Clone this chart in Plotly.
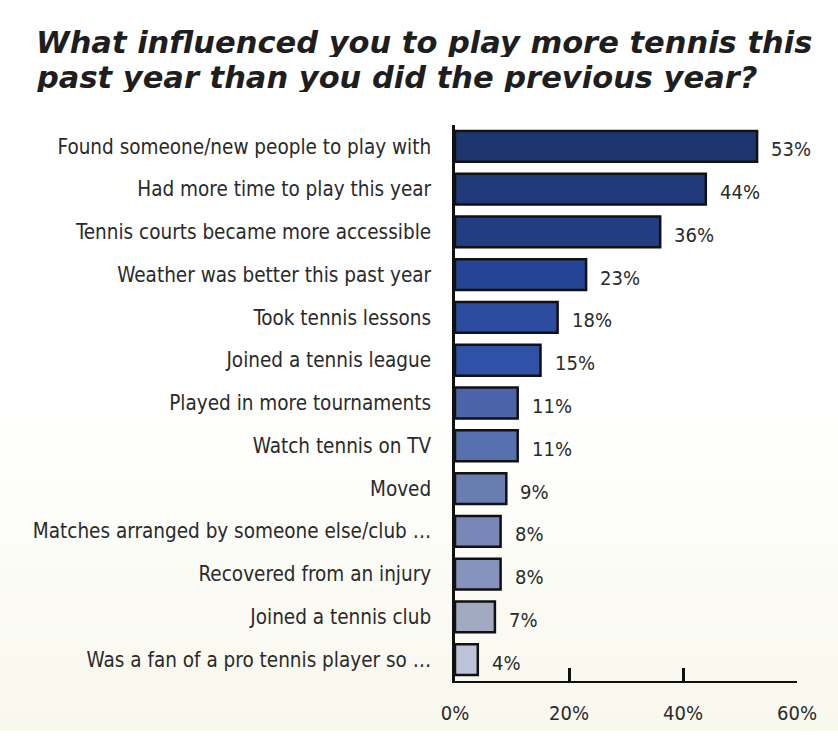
import plotly.graph_objects as go

categories = [
    "Found someone/new people to play with",
    "Had more time to play this year",
    "Tennis courts became more accessible",
    "Weather was better this past year",
    "Took tennis lessons",
    "Joined a tennis league",
    "Played in more tournaments",
    "Watch tennis on TV",
    "Moved",
    "Matches arranged by someone else/club \u2026",
    "Recovered from an injury",
    "Joined a tennis club",
    "Was a fan of a pro tennis player so \u2026",
]
values = [53, 44, 36, 23, 18, 15, 11, 11, 9, 8, 8, 7, 4]
bar_colors = ["#1e3670", "#203979", "#223d82", "#264496", "#2b4c9f", "#2f51a6",
              "#4b63a8", "#5771ae", "#6a7db2", "#7887b8", "#8693bd", "#a2aac2", "#bcc3d6"]
tick_vals = [0, 20, 40, 60]
tick_text = ["0%", "20%", "40%", "60%"]
title_lines = ["What influenced you to play more tennis this",
               "past year than you did the previous year?"]

LABEL_FONT = "DejaVu Sans Condensed"

fig = go.Figure()
fig.add_trace(go.Bar(
    x=values, y=categories, orientation="h",
    marker=dict(color=bar_colors, line=dict(color="#111111", width=2.5)),
    width=0.72, hoverinfo="skip",
))

for c, v in zip(categories, values):
    fig.add_annotation(x=v, y=c, text=f"{v}%", showarrow=False, xanchor="left",
                       xshift=12, yshift=-3,
                       font=dict(family=LABEL_FONT, size=20, color="#2a2a2a"))

# title lines (placed in paper coordinates relative to the plot area)
for line, ypos in zip(title_lines, [1.150, 1.087]):
    fig.add_annotation(text=line, xref="paper", yref="paper", x=-1.232, y=ypos,
                       xanchor="left", yanchor="middle", showarrow=False,
                       height=30, valign="middle",
                       font=dict(family="DejaVu Sans", size=30.5, color="#1e1e1e",
                                 weight="bold", style="italic"))

# background gradient (white -> pale cream toward the bottom)
shapes = []
n = 40
top_frac = 0.5
for i in range(n):
    y0 = -0.09 + i * (top_frac + 0.09) / n
    y1 = -0.09 + (i + 1) * (top_frac + 0.09) / n
    t = 1 - (i + 0.5) / n
    r = int(round(255 - t * 7))
    g = int(round(255 - t * 7))
    b = int(round(255 - t * 18))
    shapes.append(dict(type="rect", xref="paper", yref="paper", x0=-1.5, x1=1.2,
                       y0=y0, y1=y1, line_width=0, fillcolor=f"rgb({r},{g},{b})",
                       layer="below"))
fig.update_layout(shapes=shapes)

fig.update_layout(
    width=838, height=737,
    margin=dict(l=455, r=41, t=125, b=48),
    paper_bgcolor="white", plot_bgcolor="rgba(0,0,0,0)",
    showlegend=False,
    xaxis=dict(range=[0, 60], tickvals=tick_vals, ticktext=tick_text,
               showgrid=False, zeroline=False, showline=True, linecolor="#111111",
               linewidth=1.5, ticks="inside", ticklen=13, tickwidth=3,
               tickcolor="#111111",
               tickfont=dict(family=LABEL_FONT, size=20, color="#2a2a2a"),
               ticklabelstandoff=13),
    yaxis=dict(autorange=False, range=[12.5, -0.5], showgrid=False, showline=True,
               linecolor="#111111", linewidth=2.5, ticks="",
               tickfont=dict(family=LABEL_FONT, size=20.5, color="#2a2a2a"),
               ticklabelstandoff=17),
)

fig.write_html("out.html")
